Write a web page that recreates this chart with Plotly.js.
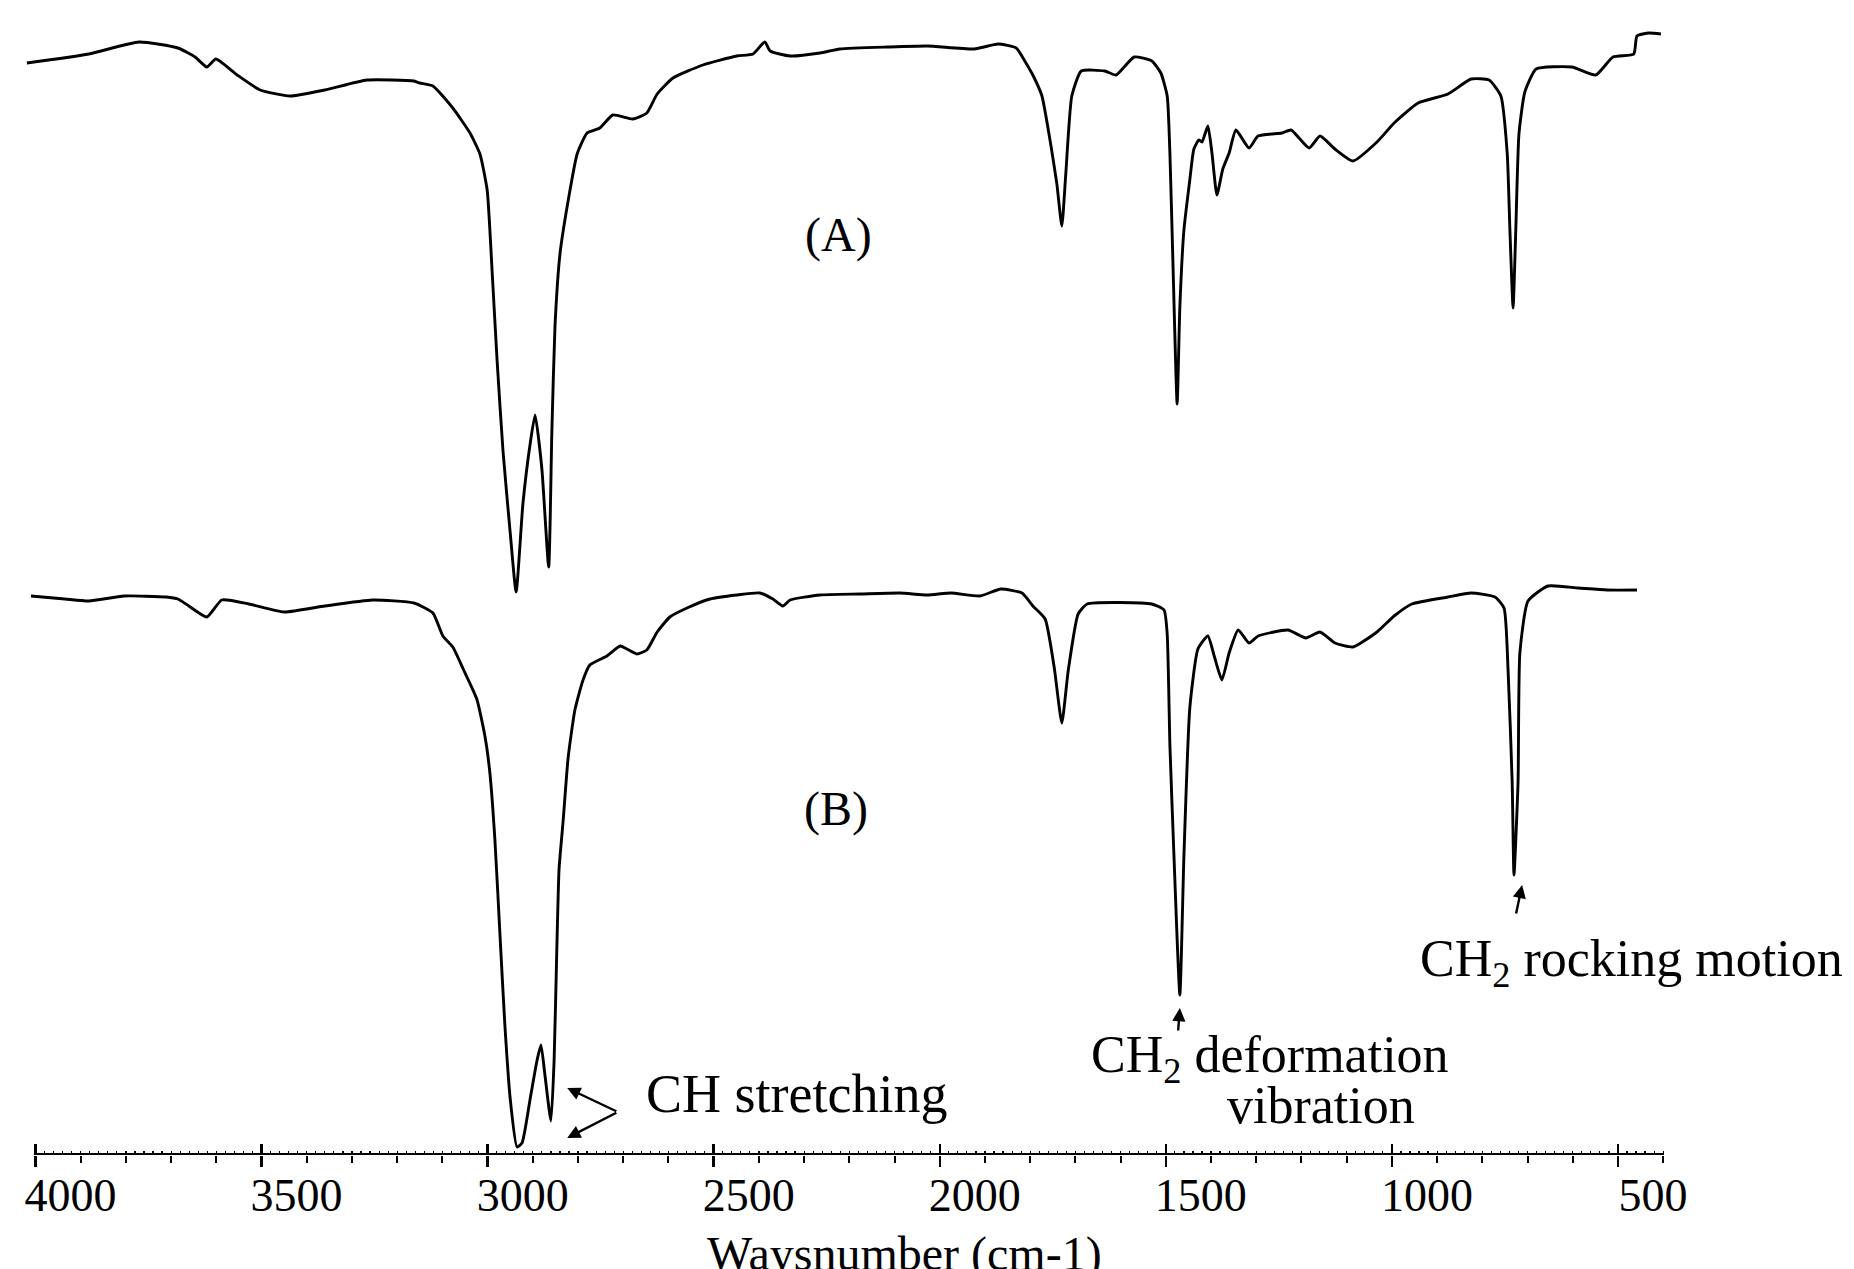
<!DOCTYPE html>
<html>
<head>
<meta charset="utf-8">
<script src="https://cdn.plot.ly/plotly-3.0.1.min.js"></script>
<style>html,body{margin:0;padding:0;background:#fff;}#chart{width:1854px;height:1269px;}</style>
</head>
<body>
<div id="chart"></div>
<script>
// Spectrum (A): wavenumber (cm-1) and relative signal (offset, arbitrary units)
const wavenumberA = [4019,3882,3771,3685,3647,3621,3601,3554,3503,3437,3360,3267,3163,3150,3121,3077,3039,3017,3001,2990,2979,2966,2950,2937,2922,2906,2895,2880,2865,2858,2851,2840,2822,2802,2780,2752,2723,2679,2648,2625,2590,2524,2449,2413,2387,2375,2331,2265,2221,2115,2028,1924,1871,1831,1812,1792,1774,1754,1741,1730,1721,1708,1687,1635,1610,1570,1531,1511,1497,1491,1484,1475,1469,1460,1447,1438,1427,1420,1407,1398,1387,1374,1360,1345,1316,1296,1243,1223,1183,1159,1126,1086,1033,995,942,876,825,785,759,745,739,732,726,719,706,681,602,549,511,465,458,431,405];
const signalA = [109.2,110.1,111.3,110.7,109.8,108.8,109.6,108.0,106.5,105.9,106.5,107.5,107.4,107.2,106.9,104.7,102.2,100.1,96.5,88.3,79.4,70.4,62.2,56.3,65.1,71.1,74.0,68.6,58.8,72.2,82.9,90.1,95.4,100.1,102.2,102.7,104.0,103.6,104.2,106.1,107.7,109.0,109.9,110.1,111.3,110.4,109.9,110.2,110.6,110.8,110.9,110.6,111.1,110.7,109.4,107.8,105.9,100.9,97.1,92.9,98.3,105.9,108.4,108.4,108.0,109.8,109.4,108.2,105.9,100.2,88.7,75.1,84.8,92.5,97.5,100.6,101.5,101.3,102.9,100.2,96.0,98.6,100.2,102.5,100.7,101.9,102.2,102.5,100.7,101.9,100.6,99.4,101.3,103.2,105.2,106.1,107.6,107.5,105.9,100.2,92.5,84.7,92.5,102.1,106.3,108.6,108.8,108.0,109.8,110.1,111.9,112.2,112.1];

// Spectrum (B)
const wavenumberB = [4010,3935,3882,3804,3711,3685,3661,3621,3588,3528,3450,3360,3254,3163,3121,3099,3077,3054,3024,3006,2995,2984,2973,2962,2950,2935,2924,2906,2891,2882,2873,2860,2853,2847,2842,2833,2822,2807,2789,2774,2736,2707,2692,2670,2648,2625,2597,2559,2508,2449,2398,2369,2347,2331,2265,2176,2088,2028,1975,1911,1865,1818,1794,1767,1747,1730,1716,1694,1674,1531,1504,1497,1491,1482,1469,1460,1447,1429,1407,1393,1376,1360,1340,1316,1296,1230,1190,1159,1126,1086,1033,995,956,876,825,772,752,743,734,730,721,717,699,655,588,524,458];
const signalB = [55.9,55.6,55.4,55.9,55.8,55.6,54.9,53.8,55.5,55.1,54.3,54.9,55.5,55.2,54.2,51.9,50.8,48.6,45.6,41.9,38.2,31.6,22.3,13.1,5.6,0.8,1.2,5.6,9.4,11.0,7.9,3.4,9.4,20.5,28.6,33.4,39.7,44.5,47.5,49.0,49.9,50.9,50.6,50.1,50.5,52.3,53.8,54.7,55.6,56.0,56.2,55.6,54.9,55.5,56.0,56.1,56.2,56.0,56.2,55.9,56.6,56.2,54.9,53.6,48.8,43.2,48.4,54.1,55.1,55.1,54.5,52.1,41.0,29.9,16.0,29.9,44.7,50.6,51.9,49.9,47.5,50.2,52.5,51.2,51.9,52.5,51.7,52.3,51.2,50.8,52.3,53.9,55.1,55.8,56.2,55.8,54.7,48.4,37.3,28.0,37.3,50.2,55.4,56.9,56.7,56.5,56.5];

const majorTicks = [4000,3500,3000,2500,2000,1500,1000,500];
const majorTickText = ["4000","3500","3000","2500","2000","1500","1000","500"];
const axisTitle = "Waysnumber (cm-1)";
const labelA = "(A)";
const labelB = "(B)";
const labelStretch = "CH stretching";
const labelDeform1 = "CH<sub>2</sub> deformation";
const labelDeform2 = "vibration";
const labelRock = "CH<sub>2</sub> rocking motion";

const serif = "Liberation Serif, Times New Roman, serif";
const xr = [4060.8, 380.5];

// fine ruler ticks along the axis line (every 20 cm-1 between 4000 and 400)
const fineTicks = [];
for (let v = 400; v <= 4000; v += 20) fineTicks.push(v);

const traces = [
  {x: wavenumberA, y: signalA, type: 'scatter', mode: 'lines', xaxis: 'x', yaxis: 'y',
   line: {color: '#000', width: 2.9, shape: 'spline', smoothing: 0.5}, hoverinfo: 'skip', showlegend: false},
  {x: wavenumberB, y: signalB, type: 'scatter', mode: 'lines', xaxis: 'x2', yaxis: 'y',
   line: {color: '#000', width: 2.9, shape: 'spline', smoothing: 0.5}, hoverinfo: 'skip', showlegend: false}
];

function arrow(xh, yh, xt, yt) {
  return {x: xh, y: yh, ax: xt, ay: yt, xref: 'x', yref: 'y', axref: 'x', ayref: 'y',
    text: '', showarrow: true, arrowhead: 2, arrowsize: 1.1, arrowwidth: 2.4, arrowcolor: '#000',
    standoff: 0, startstandoff: 0, font: {size: 2}};
}

const annotations = [
  {x: 2225, y: 92.0, xref: 'x', yref: 'y', text: labelA, showarrow: false, font: {family: serif, size: 48, color: '#000'}, xanchor: 'center', yanchor: 'middle'},
  {x: 2230, y: 34.6, xref: 'x', yref: 'y', text: labelB, showarrow: false, font: {family: serif, size: 48, color: '#000'}, xanchor: 'center', yanchor: 'middle'},
  {x: 2316, y: 6.1, xref: 'x', yref: 'y', text: labelStretch, showarrow: false, font: {family: serif, size: 54, color: '#000'}, xanchor: 'center', yanchor: 'middle'},
  {x: 1270, y: 9.7, xref: 'x', yref: 'y', text: labelDeform1, showarrow: false, font: {family: serif, size: 52, color: '#000'}, xanchor: 'center', yanchor: 'middle'},
  {x: 1157, y: 5.0, xref: 'x', yref: 'y', text: labelDeform2, showarrow: false, font: {family: serif, size: 52, color: '#000'}, xanchor: 'center', yanchor: 'middle'},
  {x: 469, y: 19.3, xref: 'x', yref: 'y', text: labelRock, showarrow: false, font: {family: serif, size: 52, color: '#000'}, xanchor: 'center', yanchor: 'middle'},
  {x: 2077, y: -0.0872, xref: 'x', yref: 'paper', text: axisTitle, showarrow: false, font: {family: serif, size: 48, color: '#000'}, xanchor: 'center', yanchor: 'middle'},
  arrow(2824, 6.7, 2712, 4.3),
  arrow(2824, 1.7, 2712, 4.3),
  arrow(1469, 14.7, 1473, 12.3),
  arrow(712, 27.0, 726, 24.0)
];

const layout = {
  width: 1854, height: 1269,
  margin: {l: 8, r: 182, t: 20, b: 114, pad: 0},
  paper_bgcolor: '#fff', plot_bgcolor: '#fff',
  showlegend: false,
  xaxis: {
    range: xr, showgrid: false, zeroline: false, showline: false,
    tickmode: 'array', tickvals: majorTicks, ticktext: majorTickText,
    ticks: 'outside', ticklen: 11, tickwidth: 2.5, tickcolor: '#000',
    ticklabelshift: -35, ticklabelstandoff: -11,
    tickfont: {family: serif, size: 46, color: '#000'},
    minor: {tickmode: 'linear', tick0: 0, dtick: 100, ticks: 'outside', ticklen: 7, tickwidth: 2, tickcolor: '#000', showgrid: false}
  },
  xaxis2: {
    range: xr, overlaying: 'x', anchor: 'y', side: 'bottom',
    showgrid: false, zeroline: false, showline: false, showticklabels: false,
    tickmode: 'array', tickvals: majorTicks,
    ticks: 'inside', ticklen: 11, tickwidth: 2.5, tickcolor: '#000',
    minor: {tickmode: 'array', tickvals: fineTicks, ticks: 'inside', ticklen: 4, tickwidth: 1.2, tickcolor: '#000', showgrid: false}
  },
  yaxis: {range: [0, 113.5], visible: false, showgrid: false, zeroline: false},
  shapes: [
    {type: 'line', xref: 'x', yref: 'y', x0: 4000, x1: 400, y0: 0, y1: 0, line: {color: '#000', width: 4}}
  ],
  annotations: annotations
};

Plotly.newPlot('chart', traces, layout, {displayModeBar: false, staticPlot: true});
</script>
</body>
</html>
